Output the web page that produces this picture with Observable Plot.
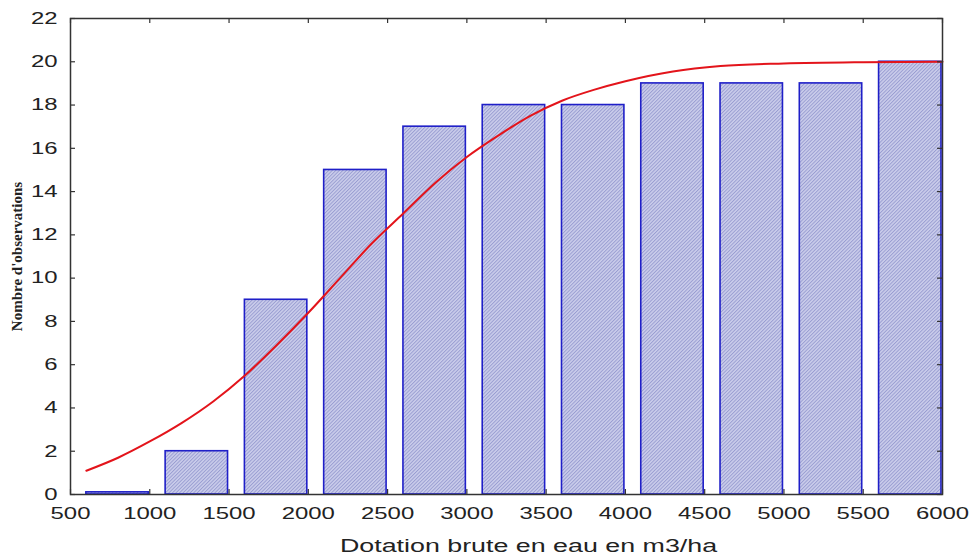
<!DOCTYPE html>
<html><head><meta charset="utf-8">
<script src="https://cdn.jsdelivr.net/npm/d3@7"></script>
<script src="https://cdn.jsdelivr.net/npm/@observablehq/plot@0.6"></script>
<style>body{margin:0;background:#fff;} svg{display:block;}</style>
</head><body><div id="chart"></div>
<script>
// Data
const binStart = [600, 1100, 1600, 2100, 2600, 3100, 3600, 4100, 4600, 5100, 5600];
const binEnd   = [1000, 1500, 2000, 2500, 3000, 3500, 4000, 4500, 5000, 5500, 6000];
const counts   = [0.1, 2, 9, 15, 17, 18, 18, 19, 19, 19, 20];
const curveX = [600, 800, 1000, 1200, 1400, 1600, 1800, 2000, 2200, 2400, 2600, 2800, 3000, 3200, 3400, 3600, 3800, 4000, 4300, 4600, 5000, 5500, 6000];
const curveY = [1.1, 1.7, 2.45, 3.3, 4.3, 5.5, 6.9, 8.4, 10.0, 11.6, 13.0, 14.4, 15.6, 16.6, 17.5, 18.2, 18.7, 19.1, 19.55, 19.8, 19.92, 19.98, 20.0];
const xTicks = [500, 1000, 1500, 2000, 2500, 3000, 3500, 4000, 4500, 5000, 5500, 6000];
const yTicks = [0, 2, 4, 6, 8, 10, 12, 14, 16, 18, 20, 22];
const xLabel = "Dotation brute en eau en m3/ha";
const yLabel = "Nombre d'observations";

const bars = binStart.map((s, i) => ({x1: s, x2: binEnd[i], y: counts[i]}));
const curve = curveX.map((x, i) => ({x, y: curveY[i]}));

const W = 974, H = 559, mL = 70, mR = 32, mT = 18, mB = 65;
const innerW = W - mL - mR, innerH = H - mT - mB;
const tickLen = 5;
const font = "'Liberation Sans', Arial, sans-serif";

const plot = Plot.plot({
  width: W, height: H,
  marginLeft: mL, marginRight: mR, marginTop: mT, marginBottom: mB,
  style: {fontFamily: font, background: "#fff", overflow: "visible"},
  x: {domain: [500, 6000], axis: null},
  y: {domain: [0, 22], axis: null},
  marks: [
    Plot.rectY(bars, {x1: "x1", x2: "x2", y: "y", fill: "#b8bbdd", stroke: "#1f1fc8", strokeWidth: 1.6, insetRight: 1, className: "hbars"}),
    Plot.line(curve, {x: "x", y: "y", stroke: "#e3141b", strokeWidth: 2, curve: "monotone-x"}),
    Plot.frame({stroke: "#333", strokeWidth: 1.5}),
    Plot.tickX(xTicks, {x: d => d, stroke: "#333", strokeWidth: 1.2, insetTop: innerH - tickLen}),
    Plot.tickX(xTicks, {x: d => d, stroke: "#333", strokeWidth: 1.2, insetBottom: innerH - tickLen}),
    Plot.tickY(yTicks, {y: d => d, stroke: "#333", strokeWidth: 1.2, insetRight: innerW - tickLen}),
    Plot.tickY(yTicks, {y: d => d, stroke: "#333", strokeWidth: 1.2, insetLeft: innerW - tickLen}),
    // tick labels
    Plot.text(xTicks, {x: d => d, text: d => String(d), frameAnchor: "bottom", dy: 24, textAnchor: "middle", fontSize: 16.5, fill: "#222", className: "stretch"}),
    Plot.text(yTicks, {y: d => d, text: d => String(d), frameAnchor: "left", dx: -13, textAnchor: "end", fontSize: 16.5, fill: "#222", className: "stretch"}),
    // axis titles
    Plot.text([xLabel], {text: d => d, frameAnchor: "bottom", dy: 57, dx: 22, textAnchor: "middle", fontSize: 18.5, fill: "#222", className: "stretch"}),
    Plot.text([yLabel], {text: d => d, frameAnchor: "left", dx: -53, rotate: -90, textAnchor: "middle", fontSize: 15, fontWeight: "bold", fontFamily: "'Liberation Serif', 'Times New Roman', serif", fill: "#222"})
  ]
});

// hatch pattern for bars
const ns = "http://www.w3.org/2000/svg";
const defs = document.createElementNS(ns, "defs");
defs.innerHTML = `<pattern id="hatch" patternUnits="userSpaceOnUse" width="2.5" height="2.5" patternTransform="rotate(-45)">
  <rect width="2.5" height="2.5" fill="#cbcdeb"></rect>
  <line x1="0" y1="0.5" x2="2.5" y2="0.5" stroke="#969ad0" stroke-width="0.9"></line>
</pattern>`;
plot.insertBefore(defs, plot.firstChild);
plot.querySelectorAll('.hbars').forEach(g => {
  g.setAttribute("fill", "url(#hatch)");
  g.querySelectorAll("rect").forEach(r => r.setAttribute("fill", "url(#hatch)"));
});

// horizontally stretched text as in the reference (scale about the anchor point)
const sx = 1.45;
const isNum = v => v !== null && /^-?[\d.]+$/.test(v.trim());
plot.querySelectorAll('[class*="stretch"] text, text[class*="stretch"]').forEach(t => {
  let tr = t.getAttribute("transform") || "";
  const x = t.getAttribute("x");
  if (isNum(x) && +x !== 0) {
    t.removeAttribute("x");
    tr += ` translate(${x},0)`;
  }
  if (!tr) {
    const y = t.getAttribute("y");
    if (isNum(y)) { t.removeAttribute("y"); tr = `translate(0,${y})`; }
  }
  t.setAttribute("transform", tr + ` scale(${sx},1)`);
});

document.getElementById("chart").appendChild(plot);
</script>
</body></html>
